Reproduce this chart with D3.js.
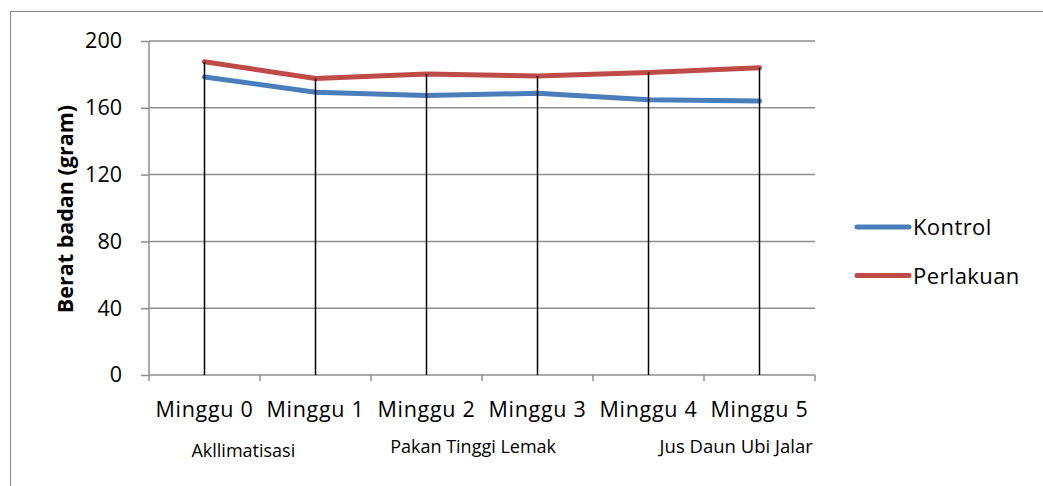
<!DOCTYPE html>
<html><head><meta charset="utf-8">
<script src="https://cdn.jsdelivr.net/npm/d3@7/dist/d3.min.js"></script>
<style>body{margin:0;background:#fff}svg{display:block}text{font-family:"Open Sans","Noto Sans",sans-serif}</style>
</head><body><svg id="c" width="1043" height="486"></svg>
<script>
const categories = ["Minggu 0","Minggu 1","Minggu 2","Minggu 3","Minggu 4","Minggu 5"];
const kontrol = [178.5, 169.3, 167.3, 168.7, 164.8, 164];
const perlakuan = [187.6, 177.6, 180.2, 179, 181.2, 184];
const seriesNames = ["Kontrol","Perlakuan"];
const yTicks = [0,40,80,120,160,200];
const phases = [{label:"Akllimatisasi", pos:0.35},{label:"Pakan Tinggi Lemak", pos:2.42},{label:"Jus Daun Ubi Jalar", pos:4.79}];

const colors = ["#4A7EBB","#BE4B48"];
const svg = d3.select("#c");
const L=149, R=815, T=41, B=375;
svg.append("rect").attr("x",10.5).attr("y",11.5).attr("width",1100).attr("height",600).attr("fill","none").attr("stroke","#8c8c8c").attr("stroke-width",1);

const x = d3.scaleBand().domain(categories).range([L,R]).paddingInner(0).paddingOuter(0);
const y = d3.scaleLinear().domain([0,200]).range([B,T]);

// gridlines
svg.append("g").selectAll("line").data(yTicks.filter(d=>d>0)).join("line")
  .attr("x1",L).attr("x2",R).attr("y1",d=>y(d)).attr("y2",d=>y(d))
  .attr("stroke","#8e8e8e").attr("stroke-width",1.5);

const yAxis = svg.append("g").attr("transform",`translate(${L},0)`)
  .call(d3.axisLeft(y).tickValues(yTicks).tickSize(8).tickPadding(19));
yAxis.select(".domain").attr("stroke","#8e8e8e").attr("stroke-width",1.5).attr("d",`M0,${T}V${B}`);
yAxis.selectAll(".tick line").attr("stroke","#8e8e8e").attr("stroke-width",1.5);
yAxis.selectAll("text").attr("font-size",21.5).attr("fill","#000");

const xAxis = svg.append("g").attr("transform",`translate(0,${B})`)
  .call(d3.axisBottom(x).tickSize(0));
xAxis.select(".domain").attr("stroke","#8e8e8e").attr("stroke-width",1.5).attr("d",`M${L},0H${R}`);
xAxis.selectAll("text").attr("font-size",21.5).attr("fill","#000").attr("y",42).attr("dy",0).attr("letter-spacing",0.7);
// category boundary ticks
svg.append("g").selectAll("line").data(d3.range(categories.length+1)).join("line")
  .attr("x1",i=>L+i*x.step()).attr("x2",i=>L+i*x.step()).attr("y1",B).attr("y2",B+6)
  .attr("stroke","#8e8e8e").attr("stroke-width",1.5);

const line = d3.line().x((d,i)=>x(categories[i])+x.bandwidth()/2).y(d=>y(d));
[kontrol,perlakuan].forEach((s,k)=>{
  svg.append("path").attr("d",line(s)).attr("fill","none").attr("stroke",colors[k])
    .attr("stroke-width",5).attr("stroke-linecap","round").attr("stroke-linejoin","round");
});
// drop lines
svg.append("g").selectAll("line").data(categories).join("line")
  .attr("x1",d=>x(d)+x.bandwidth()/2).attr("x2",d=>x(d)+x.bandwidth()/2)
  .attr("y1",(d,i)=>y(Math.max(kontrol[i],perlakuan[i]))).attr("y2",B)
  .attr("stroke","#000").attr("stroke-width",1.5);

svg.append("text").attr("transform",`translate(73,${209}) rotate(-90)`)
  .attr("text-anchor","middle").attr("font-size",21.5).attr("font-weight","bold").text("Berat badan (gram)");

phases.forEach((p,i)=>{
  svg.append("text").attr("x",L+(p.pos+0.5)*x.step()).attr("y",i==0?457:453).attr("text-anchor","middle")
    .attr("font-size",i==2?18.5:18).text(p.label);
});

const lg = svg.append("g");
seriesNames.forEach((n,k)=>{
  const yy = 227+k*48.5;
  lg.append("line").attr("x1",857).attr("x2",909).attr("y1",yy).attr("y2",yy).attr("stroke",colors[k]).attr("stroke-width",5).attr("stroke-linecap","round");
  lg.append("text").attr("x",913).attr("y",yy+8).attr("font-size",22).attr("letter-spacing",0.4).text(n);
});
</script></body></html>
